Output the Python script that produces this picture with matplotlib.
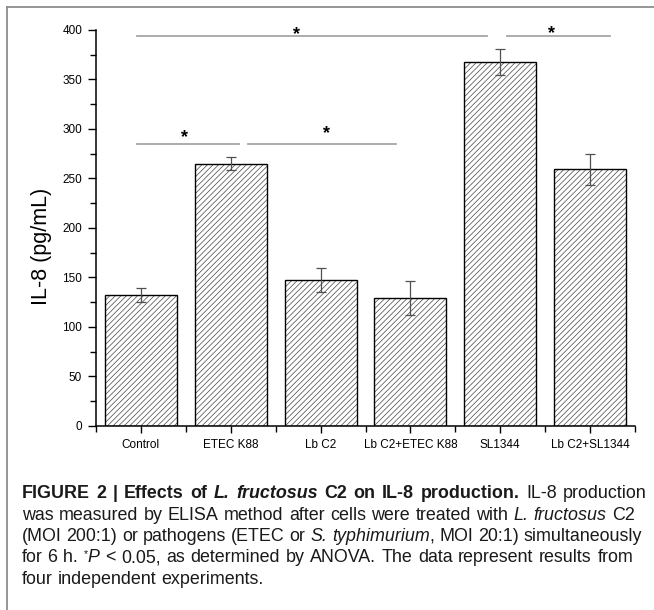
import re
import numpy as np
import matplotlib
matplotlib.use('Agg')
import matplotlib.pyplot as plt
from matplotlib.lines import Line2D

plt.rcParams['font.family'] = ['Liberation Sans', 'DejaVu Sans']
plt.rcParams['hatch.linewidth'] = 0.5

# ---------------------------------------------------------------- data
groups = ['Control', 'ETEC K88', 'Lb C2', 'Lb C2+ETEC K88', 'SL1344', 'Lb C2+SL1344']
il8 = [132, 265, 147, 129, 368, 259]
il8_err = [7, 7, 12, 17, 13, 15.5]

# significance lines: x from, x to, height
sig_lines = [(-0.045, 3.85, 393.5), (4.075, 5.22, 393.5),
             (-0.045, 1.087, 285), (1.19, 2.84, 285)]
# star positions (x, baseline)
sig_stars = [(1.737, 390.5), (4.566, 392), (0.48, 287), (2.07, 290.5)]

# caption, line by line: (text, style)
caption = [
    [('FIGURE 2 | Effects of ', 'b'), ('L. fructosus', 'bi'),
     (' C2 on IL-8 production.', 'b'), (' IL-8 production', 'n')],
    [('was measured by ELISA method after cells were treated with ', 'n'),
     ('L. fructosus', 'i'), (' C2', 'n')],
    [('(MOI 200:1) or pathogens (ETEC or ', 'n'), ('S. typhimurium', 'i'),
     (', MOI 20:1) simultaneously', 'n')],
    [('for 6\u00a0h. ', 'n'), ('*', 'sup'), ('P', 'i'),
     (' < 0.05, as determined by ANOVA. The data represent results from', 'n')],
    [('four independent experiments.', 'n')],
]
caption_right = [647, 635, 642, 633, None]

W, H = 654, 610
fig = plt.figure(figsize=(W / 100, H / 100), dpi=100)

# grey frame round the figure panel
fig.add_artist(Line2D([7 / W, 7 / W], [0, 1 - 7 / H], transform=fig.transFigure,
                      color='#8c8c8c', lw=1.3))
fig.add_artist(Line2D([7 / W, 1], [1 - 7 / H, 1 - 7 / H], transform=fig.transFigure,
                      color='#8c8c8c', lw=1.3))

ax = fig.add_axes([96 / W, 1 - 425.7 / H, (635 - 96) / W, (425.7 - 30) / H])

x = np.arange(len(groups))
ax.bar(x, il8, 0.8, color='white', edgecolor='#444444', hatch='//////', linewidth=0)
ax.bar(x, il8, 0.8, fill=False, edgecolor='black', linewidth=1.0)
ax.errorbar(x, il8, yerr=il8_err, fmt='none', ecolor='#505050',
            elinewidth=0.9, capsize=3.5, capthick=0.9)

for x0, x1, y in sig_lines:
    ax.plot([x0, x1], [y, y], color='#a6a6a6', lw=1.3, clip_on=False)
for sx, sy in sig_stars:
    ax.text(sx, sy, '*', ha='center', va='baseline', fontsize=13,
            fontweight='bold', clip_on=False)

ax.set_xlim(-0.5, 5.5)
ax.set_ylim(0, 400)
ax.set_xticks(x)
ax.set_xticklabels(groups, fontsize=8.5)
ax.set_xticks(np.arange(-0.5, 6, 1), minor=True)
ax.set_yticks(np.arange(0, 401, 50))
ax.set_yticks(np.arange(0, 401, 25), minor=True)
ax.tick_params(axis='x', which='major', length=5, width=1, pad=4.3)
ax.tick_params(axis='x', which='minor', length=4.3, width=1)
ax.tick_params(axis='y', which='major', length=6, width=1, pad=4, labelsize=8.5)
ax.tick_params(axis='y', which='minor', length=4, width=1)
for s in ['top', 'right']:
    ax.spines[s].set_visible(False)
for s in ['left', 'bottom']:
    ax.spines[s].set_linewidth(1.1)

ax.set_ylabel('IL-8 (pg/mL)', fontsize=15.5, va='center')
ax.yaxis.set_label_coords(-0.102, 0.453)


# ---------------------------------------------------------------- caption
def style_kw(st, size):
    kw = dict(fontsize=size, color='#1a1a1a')
    if 'b' in st:
        kw['fontweight'] = 'bold'
    if 'i' in st:
        kw['fontstyle'] = 'italic'
    if st == 'sup':
        kw['fontsize'] = size * 0.6
    return kw


def draw_line(runs, x0, right, base, size):
    rend = fig.canvas.get_renderer()
    # split runs into words, keep track of gaps
    items = []
    for text, st in runs:
        for piece in re.split(r'( )', text):
            if piece == '':
                continue
            items.append((piece, st))
    words = []
    for piece, st in items:
        kw = style_kw(st, size)
        if piece == ' ':
            words.append(('gap', None, None))
            continue
        t = fig.text(0, 0, piece, **kw)
        w = t.get_window_extent(rend).width
        t.remove()
        words.append((piece, kw, w))
    sp = fig.text(0, 0, 'a a', fontsize=size)
    sp2 = fig.text(0, 0, 'aa', fontsize=size)
    gap = sp.get_window_extent(rend).width - sp2.get_window_extent(rend).width
    sp.remove()
    sp2.remove()
    n_gaps = sum(1 for w in words if w[0] == 'gap')
    natural = sum(w[2] for w in words if w[0] != 'gap') + n_gaps * gap
    if right is not None and n_gaps:
        gap += (right - x0 - natural) / n_gaps
    xp = x0
    for piece, kw, w in words:
        if piece == 'gap':
            xp += gap
            continue
        yy = base - (5 if kw['fontsize'] < size else 0)
        fig.text(xp / W, 1 - yy / H, piece, ha='left', va='baseline', **kw)
        xp += w


for i, runs in enumerate(caption):
    draw_line(runs, 21.7, caption_right[i], 498.3 + i * 21.4, 12.9)

fig.savefig('out.png', dpi=100)
